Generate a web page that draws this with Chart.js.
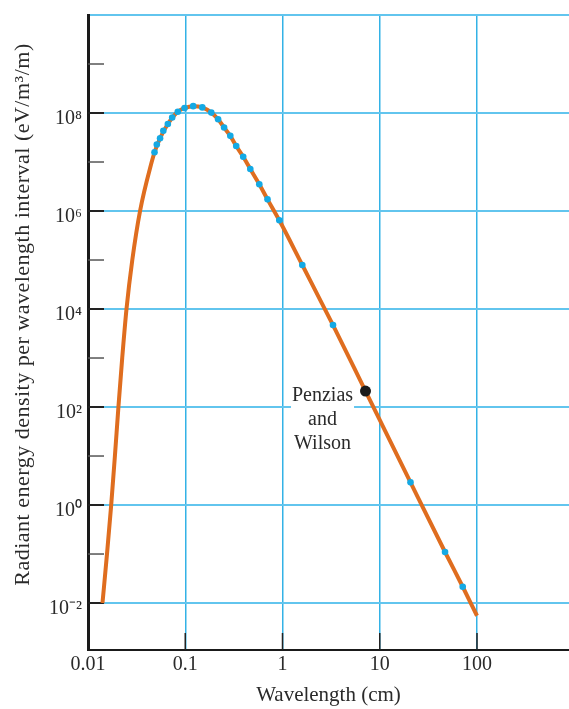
<!DOCTYPE html>
<html>
<head>
<meta charset="utf-8">
<script src="https://cdn.jsdelivr.net/npm/chart.js@4/dist/chart.umd.min.js"></script>
<style>
html,body{margin:0;padding:0;background:#fff;overflow:hidden;}
#wrap{width:569px;height:709px;position:relative;}
</style>
</head>
<body>
<div id="wrap"><canvas id="c"></canvas></div>
<script>
// Blackbody curve
const curveWavelength = [0.01409, 0.01568, 0.01732, 0.01891, 0.02055, 0.02248, 0.02488, 0.02854, 0.03428, 0.04517, 0.0483, 0.0551, 0.0662, 0.0838, 0.0983, 0.1207, 0.1497, 0.1853, 0.2177, 0.2508, 0.2905, 0.3342, 0.3944, 0.4666, 0.5773, 0.7012, 0.9271, 1.598, 3.306, 7.136, 20.71, 46.9, 71.3, 100];
const curveEnergy = [1e-2, 1e-1, 1, 1e1, 1e2, 1e3, 1e4, 1e5, 1e6, 1e7, 1.58e7, 3.05e7, 5.97e7, 1.06e8, 1.26e8, 1.38e8, 1.30e8, 1.02e8, 7.44e7, 5.06e7, 3.42e7, 2.12e7, 1.28e7, 7.2e6, 3.52e6, 1.73e6, 6.46e5, 7.9e4, 4.71e3, 212, 2.9, 0.11, 0.0215, 0.0055];

// Measured points (blue dots)
const measuredWavelength = [0.0483, 0.0510, 0.0551, 0.0595, 0.0662, 0.0734, 0.0838, 0.0983, 0.1207, 0.1497, 0.1853, 0.2177, 0.2508, 0.2905, 0.3342, 0.3944, 0.4666, 0.5773, 0.7012, 0.9271, 1.598, 3.306, 20.71, 46.9, 71.3];
const measuredEnergy = [1.58e7, 2.28e7, 3.05e7, 4.35e7, 5.97e7, 8.09e7, 1.06e8, 1.26e8, 1.38e8, 1.30e8, 1.02e8, 7.44e7, 5.06e7, 3.42e7, 2.12e7, 1.28e7, 7.2e6, 3.52e6, 1.73e6, 6.46e5, 7.9e4, 4.71e3, 2.9, 0.11, 0.0215];

// Penzias and Wilson point
const penziasWavelength = [7.136];
const penziasEnergy = [212];
const annotationLines = ['Penzias', 'and', 'Wilson'];

// Axes
const xTickValues = [0.01, 0.1, 1, 10, 100];
const xTickLabels = ['0.01', '0.1', '1', '10', '100'];
const yTickValues = [1e-2, 1e0, 1e2, 1e4, 1e6, 1e8, 1e10];
const yTickLabels = ['10⁻²', '10⁰', '10²', '10⁴', '10⁶', '10⁸', ''];
const yMinorTickValues = [1e-1, 1e1, 1e3, 1e5, 1e7, 1e9];
const xAxisTitle = 'Wavelength (cm)';
const yAxisTitle = 'Radiant energy density per wavelength interval (eV/m³/m)';

const FONT = "'Liberation Serif', 'Times New Roman', serif";
const ORANGE = '#DF6D1F';
const DOT = '#14A9E4';

const toPoints = (xs, ys) => xs.map((x, i) => ({x: x, y: ys[i]}));

const decorPlugin = {
  id: 'decor',
  beforeDatasetsDraw(chart) {
    const {ctx, chartArea: a, scales: {x, y}} = chart;
    ctx.save();
    ctx.lineCap = 'butt';
    // inside tick marks on the y axis
    ctx.strokeStyle = '#222'; ctx.lineWidth = 2;
    yTickValues.forEach(v => {
      if (v >= y.max) return;
      const p = y.getPixelForValue(v);
      ctx.beginPath(); ctx.moveTo(a.left, p); ctx.lineTo(a.left + 16, p); ctx.stroke();
    });
    ctx.strokeStyle = '#555'; ctx.lineWidth = 1.5;
    yMinorTickValues.forEach(v => {
      const p = y.getPixelForValue(v);
      ctx.beginPath(); ctx.moveTo(a.left, p); ctx.lineTo(a.left + 16, p); ctx.stroke();
    });
    // inside tick marks on the x axis
    ctx.strokeStyle = '#222'; ctx.lineWidth = 1.5;
    xTickValues.forEach(v => {
      if (v <= x.min) return;
      const p = x.getPixelForValue(v);
      ctx.beginPath(); ctx.moveTo(p, a.bottom); ctx.lineTo(p, a.bottom - 17); ctx.stroke();
    });
    // Penzias and Wilson label
    const pt = chart.getDatasetMeta(2).data[0];
    ctx.font = '20px ' + FONT;
    ctx.textAlign = 'center';
    ctx.textBaseline = 'middle';
    const cx = pt.x - 43;
    const w = Math.max(...annotationLines.map(s => ctx.measureText(s).width));
    ctx.fillStyle = '#fff';
    ctx.fillRect(cx - w / 2 - 1, pt.y - 7, w + 2, 24 * annotationLines.length);
    ctx.fillStyle = '#2a2a2a';
    annotationLines.forEach((s, i) => ctx.fillText(s, cx, pt.y + 5 + i * 24));
    ctx.restore();
  },
  afterDraw(chart) {
    // y axis title, placed a little above the centre of the plot as in the original
    const {ctx, chartArea: a} = chart;
    ctx.save();
    ctx.translate(23, (a.top + a.bottom) / 2 - 18);
    ctx.rotate(-Math.PI / 2);
    ctx.font = '22px ' + FONT;
    if ('letterSpacing' in ctx) ctx.letterSpacing = '0.5px';
    ctx.textAlign = 'center';
    ctx.textBaseline = 'middle';
    ctx.fillStyle = '#2a2a2a';
    ctx.fillText(yAxisTitle, 0, 0);
    ctx.restore();
  }
};

new Chart(document.getElementById('c'), {
  type: 'scatter',
  data: {
    datasets: [
      {
        data: toPoints(curveWavelength, curveEnergy),
        showLine: true,
        borderColor: ORANGE,
        borderWidth: 4,
        pointRadius: 0,
        cubicInterpolationMode: 'monotone',
        fill: false,
        order: 3
      },
      {
        data: toPoints(measuredWavelength, measuredEnergy),
        pointRadius: 3.3,
        pointBackgroundColor: DOT,
        pointBorderWidth: 0,
        order: 2
      },
      {
        data: toPoints(penziasWavelength, penziasEnergy),
        pointRadius: 5.5,
        pointBackgroundColor: '#1b1b1b',
        pointBorderWidth: 0,
        order: 1
      }
    ]
  },
  options: {
    responsive: true,
    maintainAspectRatio: false,
    animation: false,
    events: [],
    layout: {autoPadding: false, padding: {top: 15, right: 0, bottom: 0, left: 0}},
    plugins: {legend: {display: false}, tooltip: {enabled: false}},
    scales: {
      x: {
        type: 'logarithmic',
        min: 0.01,
        max: 883,
        afterBuildTicks: s => { s.ticks = xTickValues.map(v => ({value: v})); },
        afterFit: s => { s.height = 59; s.paddingLeft = 0; s.paddingRight = 0; },
        grid: {
          drawTicks: false,
          lineWidth: 1.5,
          color: c => (c.tick && c.tick.value <= 0.01) ? 'rgba(0,0,0,0)' : '#33B2E6'
        },
        border: {display: true, color: '#1a1a1a', width: 2},
        ticks: {
          autoSkip: false,
          maxRotation: 0,
          padding: 3,
          color: '#2a2a2a',
          font: {family: FONT, size: 20},
          callback: (v, i) => xTickLabels[i]
        },
        title: {
          display: true,
          text: xAxisTitle,
          color: '#2a2a2a',
          font: {family: FONT, size: 21},
          padding: {top: 0, bottom: 1}
        }
      },
      y: {
        type: 'logarithmic',
        min: 1.1e-3,
        max: 1e10,
        afterBuildTicks: s => { s.ticks = yTickValues.map(v => ({value: v})); },
        afterFit: s => { s.width = 88; s.paddingTop = 0; s.paddingBottom = 0; },
        grid: {
          drawTicks: false,
          lineWidth: 2,
          color: '#62C5EE'
        },
        border: {display: true, color: '#1a1a1a', width: 3},
        ticks: {
          autoSkip: false,
          padding: 6,
          labelOffset: 6,
          color: '#2a2a2a',
          font: {family: FONT, size: 20},
          callback: (v, i) => yTickLabels[i]
        },
        title: {display: false, text: yAxisTitle}
      }
    }
  },
  plugins: [decorPlugin]
});
</script>
</body>
</html>
